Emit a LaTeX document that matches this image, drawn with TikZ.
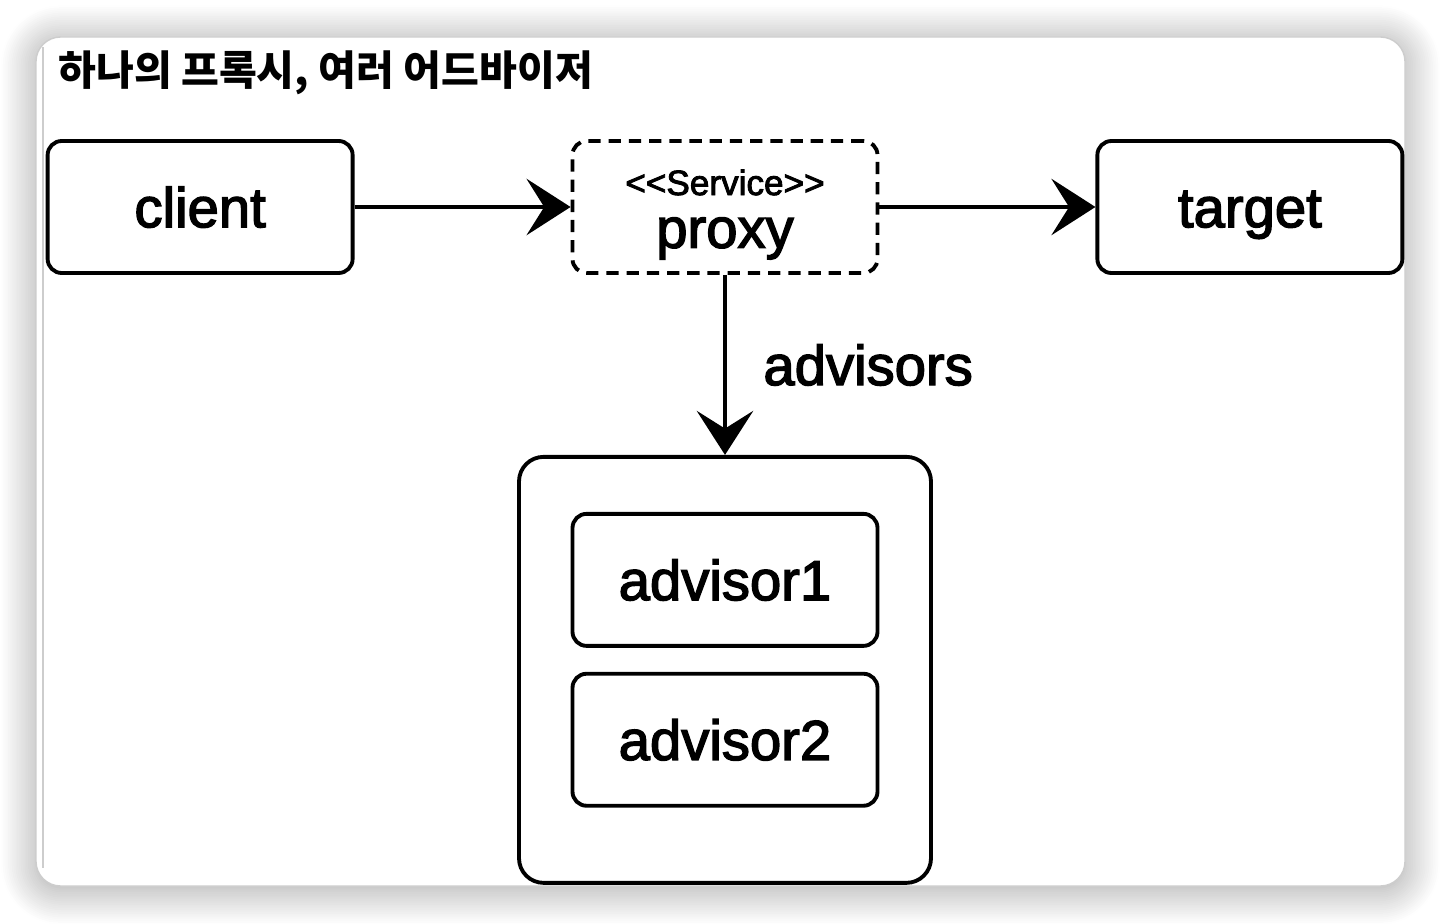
\documentclass[tikz,border=0pt]{standalone}
\usepackage{fontspec}
\setmainfont{Liberation Sans}
\newfontfamily\heavyfont{Liberation Sans}[FakeBold=2.5]
\newfontfamily\krfont{Noto Sans CJK KR}
\usetikzlibrary{arrows.meta, positioning, shadows.blur}

\definecolor{cardgray}{RGB}{205,205,205}
\definecolor{inkblack}{RGB}{0,0,0}

\tikzset{
  card/.style={
    rounded corners=14pt, fill=white, draw=cardgray, line width=0.8pt,
    blur shadow={shadow xshift=0pt, shadow yshift=-2pt,
      shadow blur radius=20pt, shadow opacity=38, shadow blur steps=20}
  },
  plainbox/.style={
    rectangle, rounded corners=8pt, minimum width=6.1cm, minimum height=2.64cm,
    draw=inkblack, line width=2.2pt, fill=white, text centered,
    font=\heavyfont\fontsize{32}{30}\selectfont
  },
  box/.style={plainbox, text height=23pt, text depth=0pt},
  proxybox/.style={plainbox, dash pattern=on 7pt off 4.5pt, align=center},
  group/.style={
    rectangle, rounded corners=14pt, minimum width=8.24cm, minimum height=8.52cm,
    draw=inkblack, line width=2.2pt
  },
  title/.style={font=\krfont\bfseries\fontsize{23.4}{27}\selectfont, inner sep=0pt, anchor=west},
  lbl/.style={font=\heavyfont\fontsize{32}{30}\selectfont, inner sep=0pt},
  arrow/.style={-{Stealth[length=25pt, width=32pt, inset=10pt]}, line width=2.8pt, color=inkblack}
}

\begin{document}
\begin{tikzpicture}
  \useasboundingbox (0,0) rectangle (28.84,-18.48);
  \draw[card] (0.72,-0.74) rectangle (28.10,-17.72);
  \draw[cardgray, line width=0.8pt] (0.86,-0.95) -- (0.86,-17.35);

  \node[title] (title) at (1.16,-1.46) {하나의 프록시, 여러 어드바이저};

  \node[proxybox] (proxy) at (14.5,-4.14)
    {\rule{0pt}{23pt}{\fontsize{20}{24}\selectfont <{}<Service>{}>}\\proxy};
  \node[box, left=4.32cm of proxy] (client) {client};
  \node[box, right=4.32cm of proxy] (target) {target};

  \node[group, below=3.6cm of proxy] (group) {};
  \node[box, below=1.14cm of group.north] (adv1) {advisor1};
  \node[box, below=0.48cm of adv1] (adv2) {advisor2};

  \draw[arrow] (client) -- (proxy);
  \draw[arrow] (proxy) -- (target);
  \draw[arrow] (proxy) -- node[right=0.72cm, lbl] (advlabel) {advisors} (group);
\end{tikzpicture}
\end{document}
